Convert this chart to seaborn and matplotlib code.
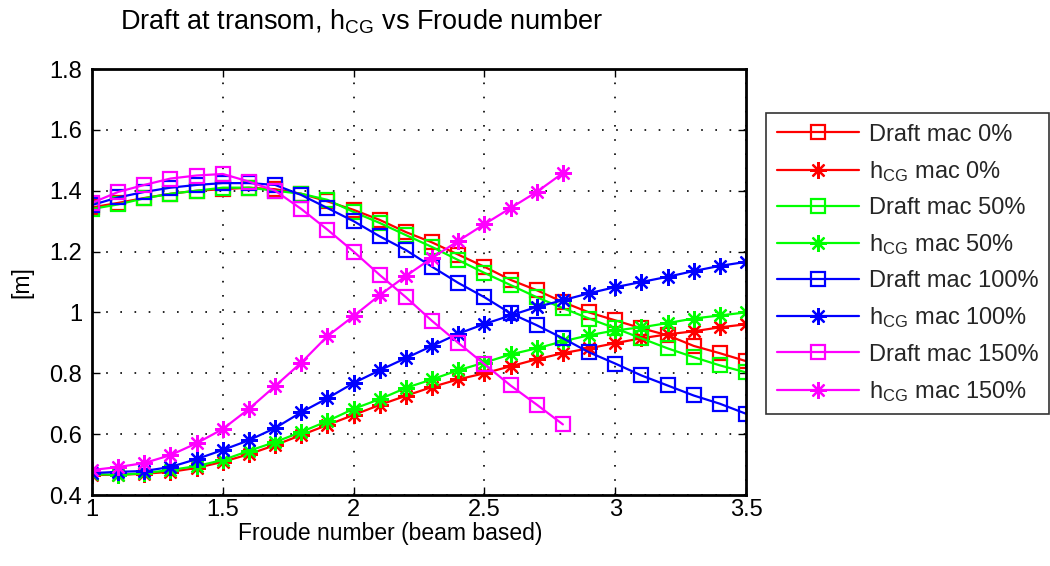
import matplotlib
matplotlib.use("Agg")
import matplotlib.pyplot as plt
import seaborn as sns
import pandas as pd

froude = [1.0, 1.1, 1.2, 1.3, 1.4, 1.5, 1.6, 1.7, 1.8, 1.9, 2.0, 2.1, 2.2,
          2.3, 2.4, 2.5, 2.6, 2.7, 2.8, 2.9, 3.0, 3.1, 3.2, 3.3, 3.4, 3.5]
froude_150 = [1.0, 1.1, 1.2, 1.3, 1.4, 1.5, 1.6, 1.7, 1.8, 1.9, 2.0, 2.1,
              2.2, 2.3, 2.4, 2.5, 2.6, 2.7, 2.8]

draft_0 = [1.345, 1.36, 1.376, 1.39, 1.40, 1.405, 1.41, 1.405, 1.39, 1.365,
           1.337, 1.304, 1.264, 1.23, 1.19, 1.15, 1.107, 1.073, 1.034, 1.00,
           0.974, 0.948, 0.925, 0.89, 0.866, 0.84]
hcg_0 = [0.466, 0.466, 0.47, 0.476, 0.489, 0.509, 0.534, 0.564, 0.597, 0.63,
         0.663, 0.696, 0.726, 0.755, 0.78, 0.80, 0.823, 0.846, 0.866, 0.882,
         0.899, 0.915, 0.928, 0.938, 0.951, 0.961]
draft_50 = [1.34, 1.355, 1.375, 1.39, 1.40, 1.41, 1.41, 1.40, 1.39, 1.37,
            1.33, 1.294, 1.254, 1.215, 1.172, 1.13, 1.09, 1.05, 1.014, 0.98,
            0.948, 0.915, 0.882, 0.853, 0.826, 0.803]
hcg_50 = [0.469, 0.466, 0.472, 0.482, 0.495, 0.515, 0.545, 0.574, 0.607,
          0.643, 0.683, 0.715, 0.752, 0.78, 0.81, 0.835, 0.862, 0.882, 0.905,
          0.925, 0.941, 0.951, 0.965, 0.98, 0.99, 1.00]
draft_100 = [1.353, 1.378, 1.396, 1.41, 1.419, 1.425, 1.425, 1.419, 1.386,
             1.343, 1.30, 1.25, 1.205, 1.15, 1.097, 1.05, 0.997, 0.958, 0.915,
             0.869, 0.832, 0.793, 0.76, 0.727, 0.70, 0.667]
hcg_100 = [0.472, 0.476, 0.479, 0.492, 0.518, 0.548, 0.58, 0.62, 0.672, 0.718,
           0.768, 0.81, 0.85, 0.89, 0.93, 0.962, 0.99, 1.018, 1.04, 1.063,
           1.083, 1.10, 1.117, 1.136, 1.153, 1.166]
draft_150 = [1.36, 1.396, 1.419, 1.44, 1.45, 1.455, 1.43, 1.40, 1.34, 1.272,
             1.20, 1.123, 1.05, 0.972, 0.90, 0.83, 0.76, 0.697, 0.632]
hcg_150 = [0.482, 0.492, 0.505, 0.531, 0.57, 0.617, 0.683, 0.758, 0.835,
           0.922, 0.988, 1.057, 1.12, 1.179, 1.235, 1.29, 1.343, 1.396, 1.458]

labels = ["Draft mac 0%", r"$\mathregular{h_{CG}}$ mac 0%",
          "Draft mac 50%", r"$\mathregular{h_{CG}}$ mac 50%",
          "Draft mac 100%", r"$\mathregular{h_{CG}}$ mac 100%",
          "Draft mac 150%", r"$\mathregular{h_{CG}}$ mac 150%"]

xtick_vals = [1, 1.5, 2, 2.5, 3, 3.5]
xtick_labels = ["1", "1.5", "2", "2.5", "3", "3.5"]
ytick_vals = [0.4, 0.6, 0.8, 1.0, 1.2, 1.4, 1.6, 1.8]
ytick_labels = ["0.4", "0.6", "0.8", "1", "1.2", "1.4", "1.6", "1.8"]

sns.set_theme(style="white")
plt.rcParams['font.family'] = ['Liberation Sans', 'DejaVu Sans']
plt.rcParams['mathtext.fontset'] = 'custom'
plt.rcParams['mathtext.rm'] = 'Liberation Sans'
plt.rcParams['mathtext.it'] = 'Liberation Sans'

fig = plt.figure(figsize=(10.5, 5.66), dpi=100)
ax = fig.add_axes([92 / 1050, 1 - 495 / 566, 654 / 1050, 426 / 566])

series = [
    (froude, draft_0, (1, 0, 0), 's'),
    (froude, hcg_0, (1, 0, 0), (8, 2, 0)),
    (froude, draft_50, (0, 1, 0), 's'),
    (froude, hcg_50, (0, 1, 0), (8, 2, 0)),
    (froude, draft_100, (0, 0, 1), 's'),
    (froude, hcg_100, (0, 0, 1), (8, 2, 0)),
    (froude_150, draft_150, (1, 0, 1), 's'),
    (froude_150, hcg_150, (1, 0, 1), (8, 2, 0)),
]

for (xs, ys, col, mk), lab in zip(series, labels):
    df = pd.DataFrame({"x": xs, "y": ys})
    if mk == 's':
        sns.lineplot(data=df, x="x", y="y", ax=ax, color=col, marker='s',
                     markersize=10, markerfacecolor='none',
                     markeredgecolor=col, markeredgewidth=1.6,
                     linewidth=1.6, label=lab, sort=False)
    else:
        sns.lineplot(data=df, x="x", y="y", ax=ax, color=col, marker=mk,
                     markersize=12, markeredgecolor=col, markeredgewidth=1.6,
                     linewidth=1.6, label=lab, sort=False)

ax.set_xlim(1, 3.5)
ax.set_ylim(0.4, 1.8)
ax.set_xticks(xtick_vals)
ax.set_xticklabels(xtick_labels)
ax.set_yticks(ytick_vals)
ax.set_yticklabels(ytick_labels)
ax.tick_params(direction='in', length=6, width=1, colors='black',
               labelsize=17, top=True, right=True, bottom=True, left=True)
ax.tick_params(axis='x', pad=3)
ax.tick_params(axis='y', pad=7)
ax.grid(True, color='black', linestyle=(0, (1, 7.5)), linewidth=1.2)
for s in ax.spines.values():
    s.set_color('black')
    s.set_linewidth(2)

ax.set_xlabel("Froude number (beam based)", fontsize=16.5, color='black')
ax.xaxis.set_label_coords((390 - 92) / 654, -0.064)
ax.set_ylabel("[m]", fontsize=16.5, color='black')
ax.yaxis.set_label_coords(-0.090, 0.5)
fig.text(362 / 1050, 1 - 29 / 566,
         r"Draft at transom, $\mathregular{h_{CG}}$ vs Froude number",
         fontsize=19.5, color='black', ha='center', va='baseline')

leg = ax.legend(loc='upper left', bbox_to_anchor=(766 / 1050, 1 - 113 / 566),
                bbox_transform=fig.transFigure, fontsize=17, frameon=True,
                fancybox=False, edgecolor='black', handlelength=3.5,
                borderpad=0.45, labelspacing=0.56, handletextpad=0.42,
                borderaxespad=0)
leg.get_frame().set_linewidth(1.2)

fig.savefig("out.png", dpi=100)
